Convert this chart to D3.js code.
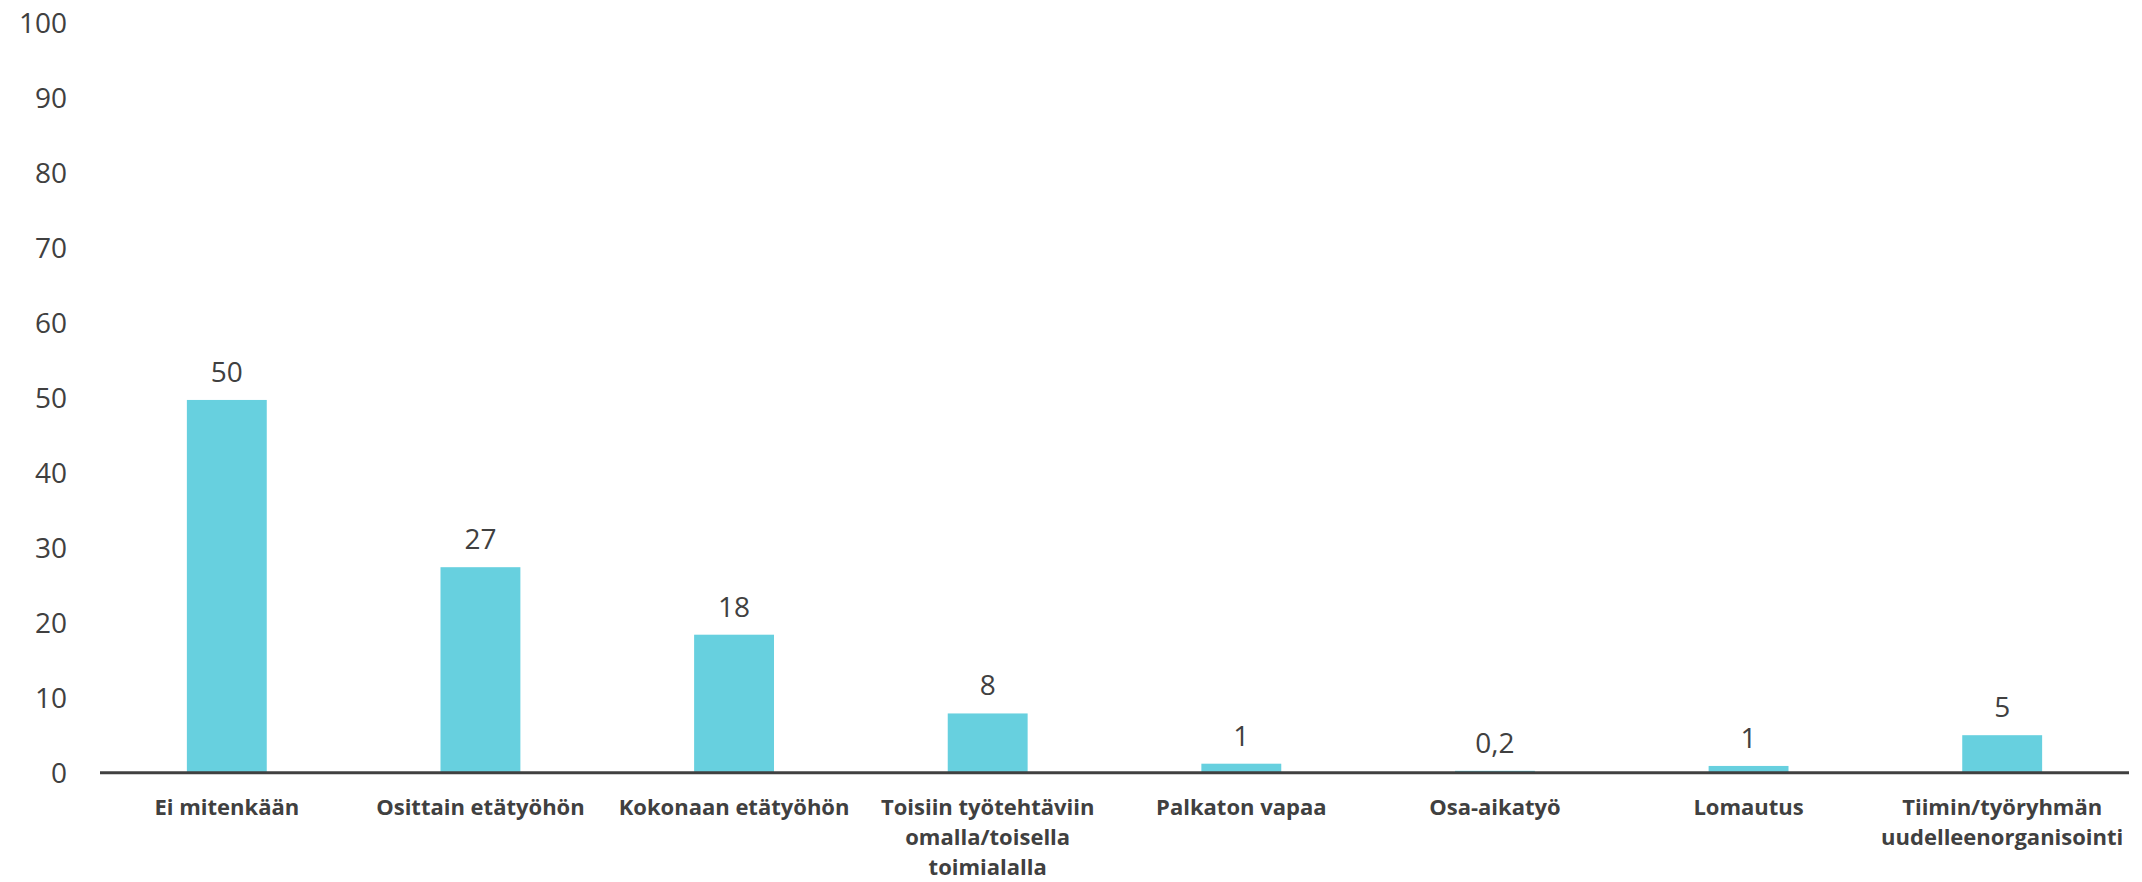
<!DOCTYPE html>
<html><head><meta charset="utf-8">
<script src="https://cdn.jsdelivr.net/npm/d3@7"></script>
<style>html,body{margin:0;padding:0;background:#fff;}svg{display:block;}</style>
</head><body>
<svg id="chart" width="2142" height="882"></svg>
<script>
const categories = [
  ["Ei mitenkään"],
  ["Osittain etätyöhön"],
  ["Kokonaan etätyöhön"],
  ["Toisiin työtehtäviin", "omalla/toisella", "toimialalla"],
  ["Palkaton vapaa"],
  ["Osa-aikatyö"],
  ["Lomautus"],
  ["Tiimin/työryhmän", "uudelleenorganisointi"]
];
const values = [49.7, 27.4, 18.4, 7.9, 1.2, 0.25, 0.9, 5.0];
const valueLabels = ["50", "27", "18", "8", "1", "0,2", "1", "5"];
const yTicks = [0, 10, 20, 30, 40, 50, 60, 70, 80, 90, 100];

const svg = d3.select("#chart");
const margin = {left: 100, right: 13, top: 22.7, bottom: 109.3};
const W = 2142, H = 882;
const ids = categories.map((d, i) => i);

const x = d3.scaleBand().domain(ids).range([margin.left, W - margin.right]).paddingInner(0.685).paddingOuter(0.3425);
const y = d3.scaleLinear().domain([0, 100]).range([H - margin.bottom, margin.top]);

const textColor = "#404040";
const font = "'Open Sans', 'Noto Sans', sans-serif";

// y axis labels
const yAxis = d3.axisLeft(y).tickValues(yTicks).tickSize(0).tickPadding(0);
const yg = svg.append("g").attr("transform", `translate(67,0)`).call(yAxis);
yg.select(".domain").remove();
yg.selectAll("text").attr("font-family", font).attr("font-size", 28).attr("fill", textColor).attr("dy", "0.35em");

// bars
svg.append("g").selectAll("rect").data(values).join("rect")
  .attr("x", (d, i) => x(i))
  .attr("width", x.bandwidth())
  .attr("y", d => y(d))
  .attr("height", d => y(0) - y(d))
  .attr("fill", "#67D0DF");

// value labels
svg.append("g").selectAll("text").data(values).join("text")
  .attr("x", (d, i) => x(i) + x.bandwidth() / 2)
  .attr("y", d => y(d) - 18)
  .attr("text-anchor", "middle")
  .attr("font-family", font).attr("font-size", 28).attr("fill", textColor)
  .text((d, i) => valueLabels[i]);

// x axis
const xAxis = d3.axisBottom(x).tickSize(0).tickFormat(() => "");
const xg = svg.append("g").attr("transform", `translate(0,${y(0)})`).call(xAxis);
xg.select(".domain").attr("stroke", textColor).attr("stroke-width", 3)
  .attr("d", `M${margin.left},0H${W - margin.right}`);

// category labels
const catG = svg.append("g");
categories.forEach((lines, i) => {
  const t = catG.append("text")
    .attr("x", x(i) + x.bandwidth() / 2)
    .attr("y", y(0) + 42.5)
    .attr("text-anchor", "middle")
    .attr("font-family", font).attr("font-weight", "bold").attr("font-size", 22)
    .attr("fill", textColor);
  lines.forEach((l, j) => {
    t.append("tspan").attr("x", x(i) + x.bandwidth() / 2).attr("dy", j === 0 ? 0 : 30).text(l);
  });
});
</script>
</body></html>
